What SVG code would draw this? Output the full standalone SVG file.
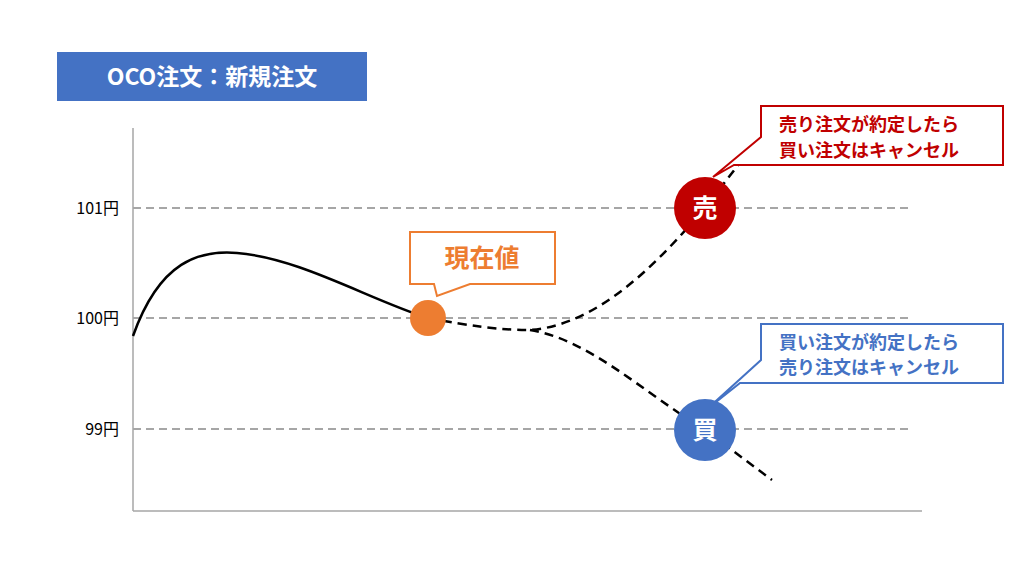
<svg xmlns="http://www.w3.org/2000/svg" width="1024" height="576" viewBox="0 0 1024 576">
<style>
text{font-family:"Noto Sans CJK JP","Noto Sans",sans-serif}
.grid{stroke:#A6A6A6;stroke-width:2;stroke-dasharray:8,5}
.lbl{font-size:16px;fill:#000;text-anchor:end}
.dash{fill:none;stroke:#000;stroke-width:2.5;stroke-dasharray:9,6}
.ct{font-size:18px;font-weight:bold;text-anchor:middle}
</style>
<rect width="1024" height="576" fill="#fff"/>
<g id="title"><rect x="57" y="52" width="310" height="49" fill="#4472C4"/><text x="212" y="85" font-size="23" font-weight="bold" fill="#fff" text-anchor="middle">OCO注文：新規注文</text></g>
<g id="axes">
<line class="grid" x1="133" y1="208" x2="908" y2="208"/>
<line class="grid" x1="133" y1="318" x2="908" y2="318"/>
<line class="grid" x1="133" y1="429" x2="908" y2="429"/>
<line x1="133" y1="128" x2="133" y2="511" stroke="#A6A6A6" stroke-width="1.5"/>
<line x1="133" y1="511" x2="922" y2="511" stroke="#A6A6A6" stroke-width="1.5"/>
<text class="lbl" x="119" y="214">101円</text>
<text class="lbl" x="119" y="324">100円</text>
<text class="lbl" x="119" y="435">99円</text>
</g>
<g id="connectors">
<path d="M133,336 C160,260 200,250 237,253 C300,258 370,300 428,318" fill="none" stroke="#000" stroke-width="2.5"/>
<path class="dash" d="M428,318 C470,326 500,330 530,330 C600,325 660,260 705,208 L742,160"/>
<path class="dash" d="M530,330 C590,340 640,390 705,430 L772,480"/>
</g>
<g id="current">
<path d="M410,232 H555 V284 H470 L437,296 L434,284 H410 Z" fill="#fff" stroke="#ED7D31" stroke-width="2"/>
<text x="482" y="267" font-size="25" font-weight="bold" fill="#ED7D31" text-anchor="middle">現在値</text>
<circle cx="428" cy="318" r="18" fill="#ED7D31"/>
</g>
<g id="sell">
<path d="M761,106 H1003 V165 H734 L713,177 L761,137 Z" fill="#fff" stroke="#C00000" stroke-width="2"/>
<text class="ct" x="869" y="131" fill="#C00000">売り注文が約定したら</text>
<text class="ct" x="869" y="157" fill="#C00000">買い注文はキャンセル</text>
<circle cx="705" cy="208" r="31" fill="#C00000"/>
<text x="705" y="217" font-size="25" font-weight="bold" fill="#fff" text-anchor="middle">売</text>
</g>
<g id="buy">
<path d="M761,324 H1003 V383 H740 L706,410 L761,360 Z" fill="#fff" stroke="#4472C4" stroke-width="2"/>
<text class="ct" x="869" y="349" fill="#4472C4">買い注文が約定したら</text>
<text class="ct" x="869" y="374" fill="#4472C4">売り注文はキャンセル</text>
<circle cx="705" cy="430" r="31" fill="#4472C4"/>
<text x="705" y="439" font-size="25" font-weight="bold" fill="#fff" text-anchor="middle">買</text>
</g>
</svg>
